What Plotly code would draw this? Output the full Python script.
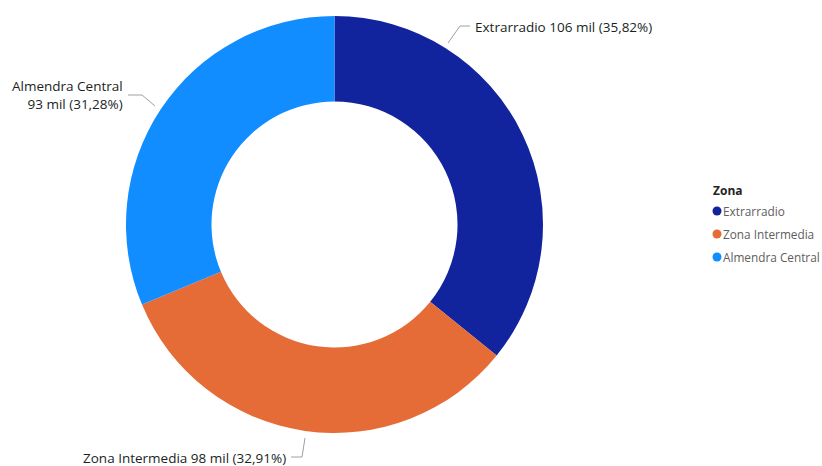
import plotly.graph_objects as go

# Zone population data
zonas = ["Extrarradio", "Zona Intermedia", "Almendra Central"]
poblacion = [106206, 97578, 92746]
colores = ["#12239E", "#E66C37", "#118DFF"]

W, H = 822, 466
CX, CY, R = 334.5, 224.5, 208.5
HOLE = 0.59

total = sum(poblacion)


def etiqueta(v):
    pct = f"{v / total * 100:.2f}".replace(".", ",")
    return f"{round(v / 1000)} mil ({pct}%)"


def px(x):
    return x / W


def py(y):
    return 1 - y / H


fig = go.Figure()

fig.add_trace(go.Pie(
    labels=zonas,
    values=poblacion,
    marker=dict(colors=colores, line=dict(width=0)),
    hole=HOLE,
    sort=False,
    direction="clockwise",
    rotation=0,
    textinfo="none",
    hoverinfo="label+value+percent",
    showlegend=False,
    domain=dict(x=[px(CX - R), px(CX + R)], y=[py(CY + R), py(CY - R)]),
))

# Data labels with leader lines
label_font = dict(family="Open Sans, sans-serif", size=13.5, color="#201F1E")
leaders = [
    (f"{zonas[0]} {etiqueta(poblacion[0])}", [(448, 43), (460, 26), (470, 26)], 473, 27, "left"),
    (f"{zonas[1]} {etiqueta(poblacion[1])}", [(305, 438), (302, 457), (291, 457)], 288, 458, "right"),
    (f"{zonas[2]}<br>{etiqueta(poblacion[2])}", [(155, 106), (142, 95), (128, 95)], 125, 95, "right"),
]

for text, pts, tx, ty, xa in leaders:
    path = "M " + " L ".join(f"{px(x)},{py(y)}" for x, y in pts)
    fig.add_shape(type="path", path=path, xref="paper", yref="paper",
                  line=dict(color="#A0A0A0", width=1))
    fig.add_annotation(x=px(tx), y=py(ty), xref="paper", yref="paper",
                       text=text, showarrow=False, xanchor=xa, yanchor="middle",
                       align="right" if xa == "right" else "left",
                       font=label_font)

# Legend: title plus a circle and name per zone
LX, LY, STEP = 711, 191, 23
fig.add_annotation(x=px(LX), y=py(LY), xref="paper", yref="paper",
                   text="<b>Zona</b>", showarrow=False, xanchor="left", yanchor="middle",
                   font=dict(family="Open Sans, sans-serif", size=12, color="#252423"))
for i, (z, c) in enumerate(zip(zonas, colores)):
    yy = LY + 20 + i * STEP
    fig.add_shape(type="circle", xref="paper", yref="paper",
                  x0=px(LX + 1.5), x1=px(LX + 10.5), y0=py(yy + 4.5), y1=py(yy - 4.5),
                  fillcolor=c, line=dict(width=0))
    fig.add_annotation(x=px(LX + 9.5), y=py(yy), xref="paper", yref="paper",
                       text=z, showarrow=False, xanchor="left", yanchor="middle",
                       font=dict(family="Open Sans, sans-serif", size=11.8, color="#605E5C"))

fig.update_layout(
    width=W, height=H,
    margin=dict(l=0, r=0, t=0, b=0),
    paper_bgcolor="white",
    showlegend=False,
)

fig.write_html("out.html")
